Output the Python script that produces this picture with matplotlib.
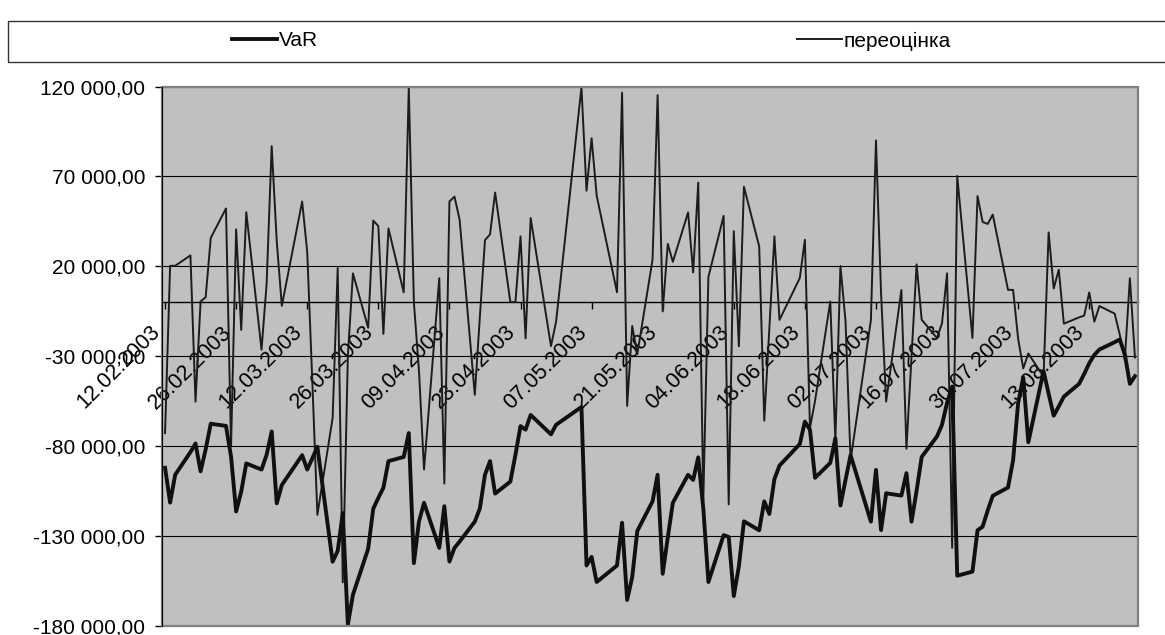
import numpy as np
import pandas as pd
import matplotlib
matplotlib.use("Agg")
import matplotlib.pyplot as plt
import matplotlib.dates as mdates
from matplotlib.lines import Line2D
from matplotlib.patches import Rectangle
from matplotlib.ticker import FuncFormatter

plt.rcParams['font.family'] = ['Liberation Sans', 'DejaVu Sans']

# trading days (Ukrainian public holidays excluded)
holidays = ['2003-03-10', '2003-04-28', '2003-05-01', '2003-05-02',
            '2003-05-09', '2003-06-16', '2003-06-30']
days = pd.bdate_range('2003-02-12', '2003-08-22')
days = days[~days.isin(pd.to_datetime(holidays))]

# revaluation result, thousands
reval_k = [-72.9, 20.2, 20.2, 26.0, -55.4, 0.4, 2.7, 35.7, 52.1, -80.0,
           40.5, -15.5, 50.0, -26.5, 10.0, 86.8, 33.7, -2.1, 56.0, 27.9,
           -44.0, -118.4, -64.5, 19.0, -156.0, -30.0, 16.0, -14.3, 45.4, 42.3,
           -17.7, 41.0, 5.4, 119.5, 0.0, -38.0, -93.2, 13.3, -101.0, 56.0,
           58.7, 46.0, -51.6, -8.0, 34.5, 37.7, 61.0, 0.0, 0.0, 36.6,
           -20.2, 46.8, -24.5, -11.0, 119.5, 62.0, 91.2, 59.2, 5.5, 116.6,
           -57.8, -13.3, -29.0, 23.6, 115.2, -5.2, 32.4, 22.4, 49.9, 16.5,
           66.5, -110.0, 14.0, 48.0, -112.6, 39.5, -24.6, 64.2, 31.0, -66.0,
           -15.0, 36.6, -9.9, 13.4, 34.7, -70.0, -55.0, 0.3, -77.0, 20.1,
           -10.5, -88.0, -10.0, 90.0, 5.0, -55.4, 6.7, -81.6, -30.0, 21.0,
           -9.8, -20.0, -11.8, 16.0, -136.8, 70.2, -20.0, 59.0, 44.6, 43.5,
           48.7, 6.8, 6.8, -20.5, -36.9, -28.6, -41.5, 38.8, 7.6, 18.0,
           -12.0, -8.5, -7.5, 5.4, -10.9, -2.2, -6.4, -18.0, -32.0, 13.3,
           -30.8]

# value at risk, thousands
var_k = [-92.2, -111.6, -96.1, -83.5, -78.7, -94.2, -82.0, -67.7, -68.9, -86.0,
         -116.5, -105.5, -89.8, -93.2, -85.0, -72.0, -112.0, -101.8, -85.2, -93.2,
         -87.0, -80.5, -144.5, -138.5, -117.4, -179.5, -162.9, -137.3, -115.0, -109.0,
         -103.3, -88.5, -86.2, -72.9, -145.3, -122.2, -111.7, -136.8, -113.6, -144.4,
         -136.8, -133.3, -122.2, -114.8, -96.1, -88.5, -106.6, -99.9, -85.0, -69.0,
         -71.0, -62.8, -73.6, -68.3, -58.4, -146.6, -141.8, -155.8, -146.6, -122.8,
         -165.8, -153.0, -127.4, -110.9, -96.1, -151.2, -131.0, -111.7, -96.1, -99.0,
         -86.4, -115.0, -155.8, -129.7, -130.7, -163.6, -147.0, -122.0, -127.0, -110.9,
         -117.9, -98.5, -91.0, -79.0, -66.5, -71.0, -97.8, -89.5, -75.8, -113.2,
         -99.0, -85.2, -122.2, -93.4, -126.9, -106.4, -107.7, -95.2, -122.2, -105.0,
         -86.2, -74.8, -68.3, -56.0, -47.0, -152.3, -150.0, -127.0, -125.0, -116.0,
         -107.8, -103.2, -88.1, -56.0, -42.0, -78.0, -38.4, -51.0, -63.2, -58.0,
         -52.6, -45.5, -40.0, -34.0, -29.4, -26.4, -22.3, -20.8, -29.0, -45.5,
         -41.2]

reval = np.array(reval_k) * 1000
var = np.array(var_k) * 1000

label_days = pd.date_range('2003-02-12', periods=14, freq='14D')
y_ticks = np.arange(-180000, 120001, 50000)


def money(v, pos=None):
    return f"{v:,.2f}".replace(",", " ").replace(".", ",")


fig = plt.figure(figsize=(11.65, 6.35), dpi=100)
ax = fig.add_axes([162.5 / 1165, 1 - 625.5 / 635, 975 / 1165, 539 / 635])
ax.set_facecolor('#c0c0c0')

ax.plot(days, reval, color='#1c1c1c', lw=1.4, zorder=3)
ax.plot(days, var, color='#101010', lw=2.8, zorder=4)

ax.set_xlim(days[0] - pd.Timedelta(hours=12), days[-1] + pd.Timedelta(hours=12))
ax.set_ylim(-180000, 120000)

ax.set_yticks(y_ticks)
ax.yaxis.set_major_formatter(FuncFormatter(money))
ax.tick_params(axis='y', direction='out', length=5, width=1, pad=7.5,
               labelsize=15, color='black')
ax.grid(axis='y', color='black', lw=0.8)
ax.set_axisbelow(True)

# category axis sits on the zero line
ax.spines['bottom'].set_position(('data', 0))
ax.spines['bottom'].set_color('black')
ax.spines['bottom'].set_linewidth(1.0)
ax.set_xticks(label_days)
ax.tick_params(axis='x', direction='out', length=5, width=1,
               labelbottom=False, color='black')
for d in label_days:
    ax.annotate(d.strftime('%d.%m.%Y'), xy=(mdates.date2num(d), 0),
                xytext=(-8, -27), textcoords='offset pixels',
                rotation=45, rotation_mode='anchor', ha='right', va='center',
                fontsize=15.5, zorder=2.5)

for s in ['top', 'right']:
    ax.spines[s].set_visible(False)
ax.spines['left'].set_color('black')
ax.spines['left'].set_zorder(6)
ax.add_patch(Rectangle((0, 0), 1, 1, transform=ax.transAxes, fill=False,
                       edgecolor='#808080', lw=1.6, clip_on=False, zorder=5))

# legend strip
fig.add_artist(Rectangle((8 / 1165, 1 - 62 / 635), 1.2, 41 / 635,
                         transform=fig.transFigure, fill=False,
                         edgecolor='#333333', lw=1.0))
fig.legend(handles=[Line2D([], [], color='#101010', lw=2.8)], labels=['VaR'],
           loc='center left', bbox_to_anchor=(232 / 1165, 1 - 41 / 635),
           frameon=False, fontsize=15, handlelength=2.15, handletextpad=0.1,
           borderpad=0, borderaxespad=0)
fig.legend(handles=[Line2D([], [], color='#1c1c1c', lw=1.4)], labels=['переоцінка'],
           loc='center left', bbox_to_anchor=(797 / 1165, 1 - 41 / 635),
           frameon=False, fontsize=15, handlelength=2.15, handletextpad=0.1,
           borderpad=0, borderaxespad=0)

fig.savefig('out.png', dpi=100)
